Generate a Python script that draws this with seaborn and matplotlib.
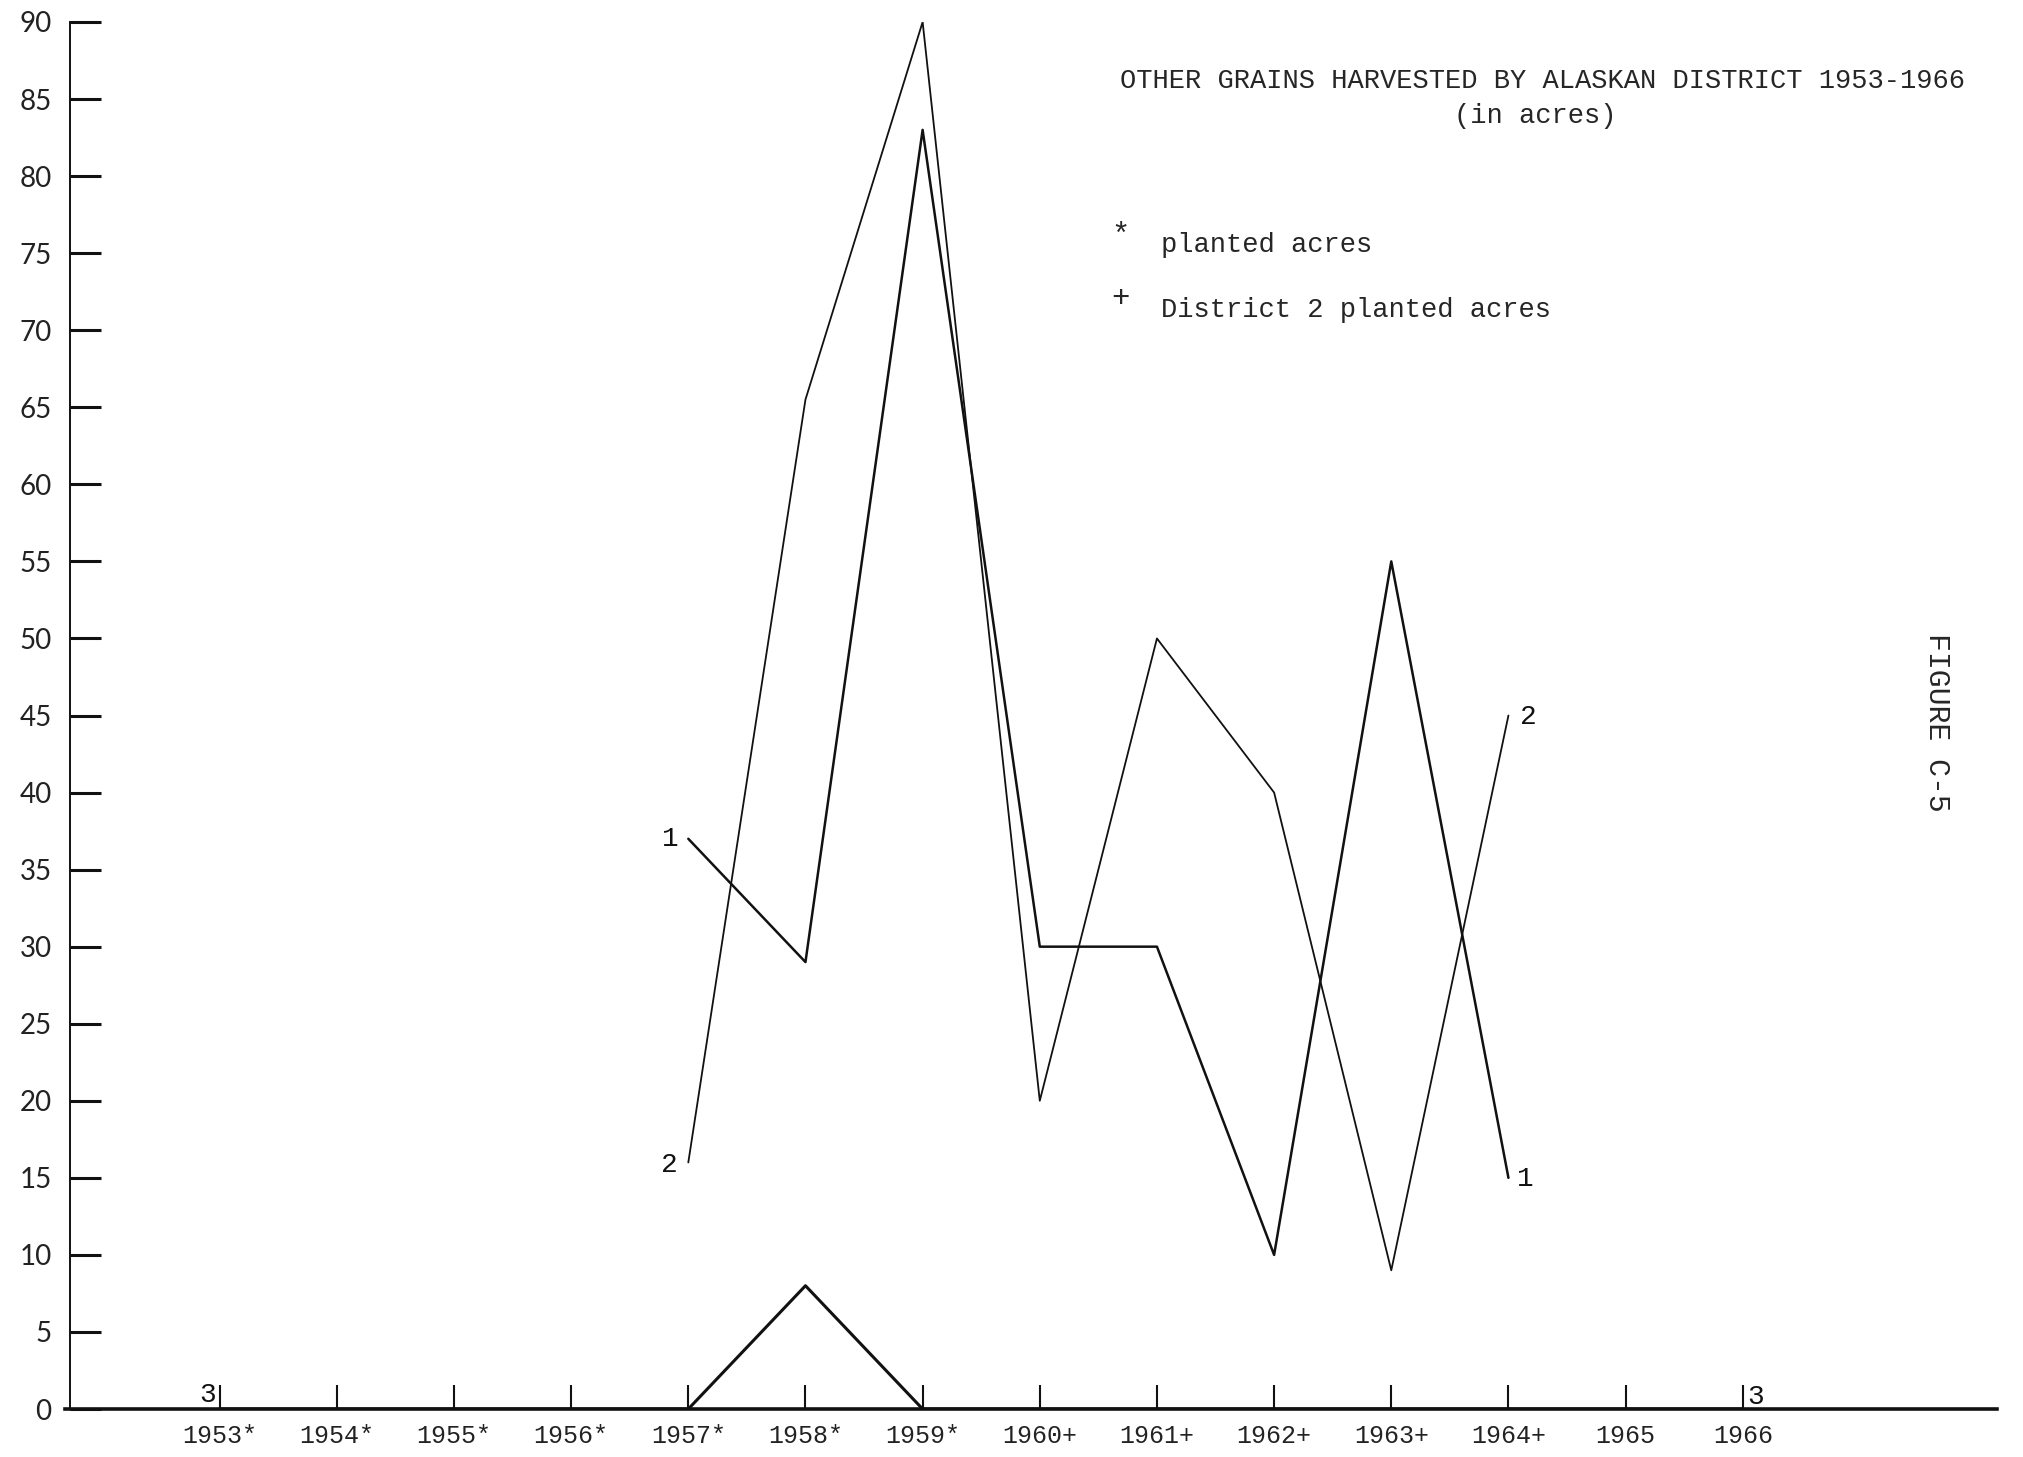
import pandas as pd
import matplotlib
matplotlib.use("Agg")
import matplotlib.pyplot as plt
import seaborn as sns

# acres harvested
years = [1953, 1954, 1955, 1956, 1957, 1958, 1959, 1960, 1961, 1962, 1963, 1964, 1965, 1966]
year_labels = ["1953*", "1954*", "1955*", "1956*", "1957*", "1958*", "1959*",
               "1960+", "1961+", "1962+", "1963+", "1964+", "1965", "1966"]
years_12 = [1957, 1958, 1959, 1960, 1961, 1962, 1963, 1964]
district_1 = [37, 29, 83, 30, 30, 10, 55, 15]
district_2 = [16, 65.5, 90, 20, 50, 40, 9, 45]
district_3 = [0, 0, 0, 0, 0, 8, 0, 0, 0, 0, 0, 0, 0, 0]
y_ticks = list(range(0, 95, 5))

sns.set_style("white")
plt.rcParams["font.family"] = ["Liberation Mono", "DejaVu Sans"]

W, H = 2023, 1457
fig = plt.figure(figsize=(W / 100, H / 100), dpi=100)
ax = fig.add_axes([65 / W, 1 - 1409 / H, (1997 - 65) / W, (1409 - 22) / H])

df12 = pd.DataFrame({"year": years_12, "d1": district_1, "d2": district_2})
df3 = pd.DataFrame({"year": years, "d3": district_3})

sns.lineplot(data=df12, x="year", y="d1", ax=ax, color="#111111", linewidth=1.8)
sns.lineplot(data=df12, x="year", y="d2", ax=ax, color="#111111", linewidth=1.3)
sns.lineplot(data=df3, x="year", y="d3", ax=ax, color="#111111", linewidth=2.2)

ax.set_xlim(1951.68, 1968.17)
ax.set_ylim(0, 90)
ax.set_xlabel("")
ax.set_ylabel("")

for s in ["top", "right"]:
    ax.spines[s].set_visible(False)
ax.spines["left"].set_linewidth(1.4)
ax.spines["bottom"].set_linewidth(2.6)
ax.spines["left"].set_color("#111111")
ax.spines["bottom"].set_color("#111111")
ax.spines["left"].set_position(("data", 1951.72))

ax.set_yticks(y_ticks)
ax.set_yticklabels([str(v) for v in y_ticks], fontfamily="Lato", fontsize=20, color="#222222")
ax.set_xticks(years)
ax.set_xticklabels(year_labels, fontsize=18, color="#222222")
for lbl in ax.get_xticklabels():
    lbl.set_horizontalalignment("center")
ax.tick_params(axis="y", left=True, direction="in", length=22, width=2.2, color="#111111", pad=13)
ax.tick_params(axis="x", bottom=True, direction="in", length=17, width=1.5, color="#111111", pad=11)

# end labels for each district line
def tag(txt, x, y, dx, dy):
    ax.annotate(txt, (x, y), xytext=(dx, dy), textcoords="offset points",
                ha="center", va="center", fontsize=20, color="#111111")

tag("1", years_12[0], district_1[0], -13, 0)
tag("2", years_12[0], district_2[0], -14, -2)
tag("2", years_12[-1], district_2[-1], 14, -1)
tag("1", years_12[-1], district_1[-1], 12, -1)
tag("3", years[0], district_3[0], -9, 10)
tag("3", years[-1], district_3[-1], 9, 9)

# title and key
fig.text(1542 / W, 1 - 81 / H, "OTHER GRAINS HARVESTED BY ALASKAN DISTRICT 1953-1966",
         ha="center", va="center", fontsize=19.5)
fig.text(1535 / W, 1 - 116 / H, "(in acres)", ha="center", va="center", fontsize=19.5)
fig.text(1120 / W, 1 - 236 / H, "*", ha="center", va="center", fontsize=22)
fig.text(1161 / W, 1 - 245 / H, "planted acres", ha="left", va="center", fontsize=19.5)
fig.text(1120 / W, 1 - 299 / H, "+", ha="center", va="center", fontsize=22)
fig.text(1161 / W, 1 - 310 / H, "District 2 planted acres", ha="left", va="center", fontsize=19.5)
fig.text(1937 / W, 1 - 722 / H, "FIGURE C-5", ha="center", va="center",
         rotation=270, fontsize=21.5)

fig.savefig("out.png", dpi=100, facecolor="white")
